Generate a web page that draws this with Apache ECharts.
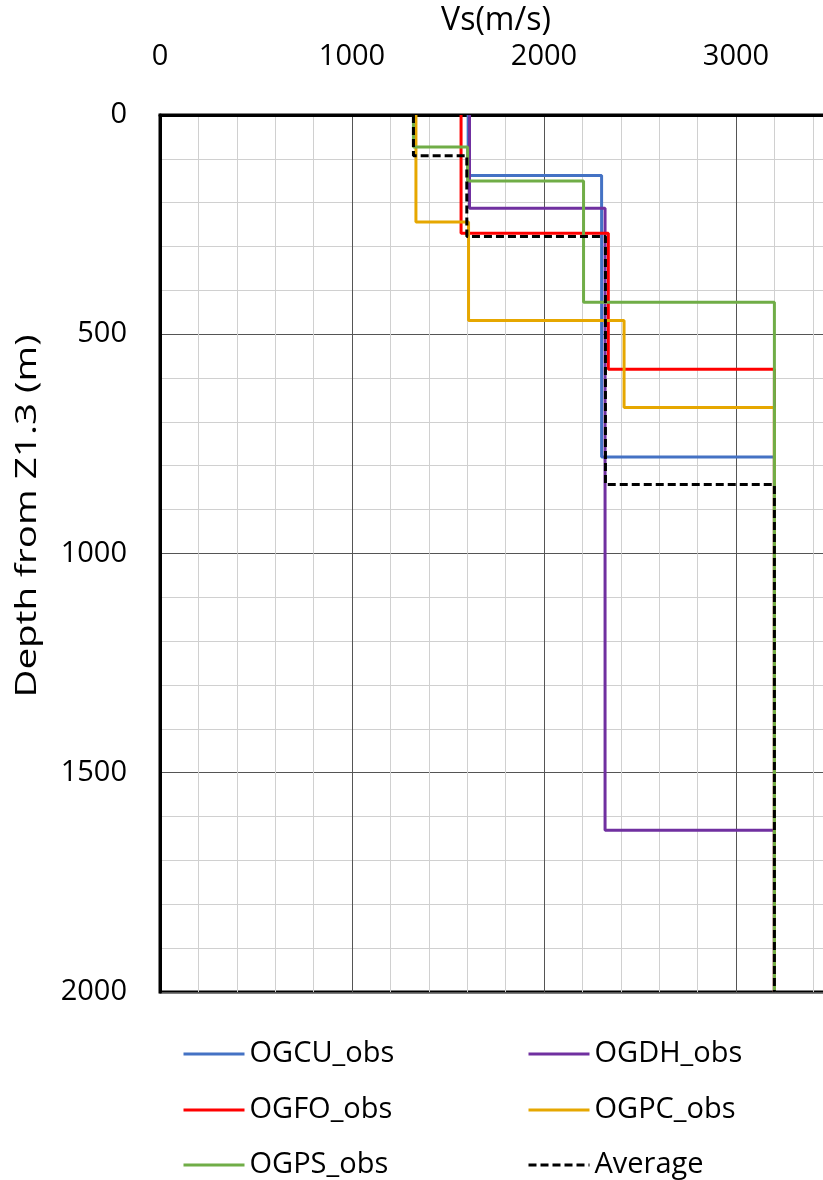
<!DOCTYPE html>
<html>
<head>
<meta charset="utf-8">
<title>Vs profiles</title>
<script src="https://cdn.jsdelivr.net/npm/echarts@6/dist/echarts.min.js"></script>
<style>
  html, body { margin: 0; padding: 0; background: #fff; overflow: hidden; }
  #chart { width: 860px; height: 1180px; }
</style>
</head>
<body>
<div id="chart"></div>
<script>
// Shear-wave velocity layers (m/s) and the depths (m) of the interfaces between them
const seriesNames = ['OGCU_obs', 'OGDH_obs', 'OGFO_obs', 'OGPC_obs', 'OGPS_obs', 'Average'];

const ogcuVel   = [1605, 2300, 3200];
const ogcuIface = [138, 780];

const ogdhVel   = [1612, 2318, 3200];
const ogdhIface = [213, 1631];

const ogfoVel   = [1568, 2335, 3200];
const ogfoIface = [270, 580];

const ogpcVel   = [1333, 1607, 2417, 3200];
const ogpcIface = [244, 469, 667];

const ogpsVel   = [1320, 1602, 2206, 3200];
const ogpsIface = [73, 151, 427];

const avgVel    = [1320, 1598, 2320, 3200];
const avgIface  = [93, 277, 843];

const depthMax = 2000;
const xTicks = [0, 1000, 2000, 3000];

const colors = ['#4472C4', '#7030A0', '#FF0000', '#E6A700', '#70AD47', '#000000'];

// Turn a layered model into the corner points of its step profile
function profile(vel, iface) {
  const pts = [[vel[0], 0]];
  for (let i = 0; i < iface.length; i++) {
    pts.push([vel[i], iface[i]]);
    pts.push([vel[i + 1], iface[i]]);
  }
  pts.push([vel[vel.length - 1], depthMax]);
  return pts;
}

const models = [
  [ogcuVel, ogcuIface],
  [ogdhVel, ogdhIface],
  [ogfoVel, ogfoIface],
  [ogpcVel, ogpcIface],
  [ogpsVel, ogpsIface],
  [avgVel, avgIface]
];

const FONT = '"Open Sans", "Noto Sans", sans-serif';

const series = models.map((m, i) => ({
  name: seriesNames[i],
  type: 'line',
  data: profile(m[0], m[1]),
  symbol: 'none',
  z: 3 + i,
  color: colors[i],
  lineStyle: {
    color: colors[i],
    width: 3,
    type: i === 5 ? [8, 4] : 'solid'
  },
  animation: false
}));

// Legend laid out as two columns of three entries
const legendSlots = [
  [182, 1036], [527, 1036],
  [182, 1092], [527, 1092],
  [182, 1147], [527, 1147]
];
const legends = seriesNames.map((n, i) => ({
  left: legendSlots[i][0],
  top: legendSlots[i][1],
  padding: 0,
  data: [n],
  itemWidth: 61,
  itemHeight: 28,
  itemStyle: { opacity: 0 },
  lineStyle: { width: 3 },
  textStyle: { fontSize: 29, color: '#000', fontFamily: FONT, lineHeight: 28, padding: [8, 0, 0, 0] },
  selectedMode: false
}));

const chart = echarts.init(document.getElementById('chart'), null, { renderer: 'canvas' });
chart.setOption({
  backgroundColor: '#fff',
  animation: false,
  grid: {
    left: 160, top: 110, width: 672, height: 882,
    show: true, borderColor: '#000', borderWidth: 3, backgroundColor: 'transparent'
  },
  legend: legends,
  graphic: [{
    type: 'text',
    x: 28, y: 516,
    rotation: Math.PI / 2,
    scaleX: 1.33,
    style: {
      text: 'Depth from Z1.3 (m)',
      fill: '#000',
      font: '29px ' + FONT,
      align: 'center',
      verticalAlign: 'middle'
    }
  }],
  xAxis: {
    type: 'value',
    position: 'top',
    min: 0, max: 3500, interval: 1000,
    name: 'Vs(m/s)',
    nameLocation: 'middle',
    nameGap: 60,
    nameTextStyle: { fontSize: 32, color: '#000', fontFamily: FONT },
    axisLine: { show: true, lineStyle: { color: '#000', width: 3 } },
    axisTick: { show: false },
    axisLabel: {
      fontSize: 29, color: '#000', fontFamily: FONT, margin: 44,
      showMaxLabel: false,
      formatter: v => (xTicks.indexOf(v) >= 0 ? String(v) : '')
    },
    splitLine: { show: true, lineStyle: { color: '#555', width: 1 } },
    minorTick: { show: false, splitNumber: 5 },
    minorSplitLine: { show: true, lineStyle: { color: '#d0d0d0', width: 1 } }
  },
  yAxis: {
    type: 'value',
    inverse: true,
    min: 0, max: depthMax, interval: 500,
    axisLine: { show: true, lineStyle: { color: '#000', width: 3 } },
    axisTick: { show: false },
    axisLabel: { fontSize: 29, color: '#000', fontFamily: FONT, margin: 33, formatter: v => String(v) },
    splitLine: { show: true, lineStyle: { color: '#555', width: 1 } },
    minorTick: { show: false, splitNumber: 5 },
    minorSplitLine: { show: true, lineStyle: { color: '#d0d0d0', width: 1 } }
  },
  series: series
});
</script>
</body>
</html>
